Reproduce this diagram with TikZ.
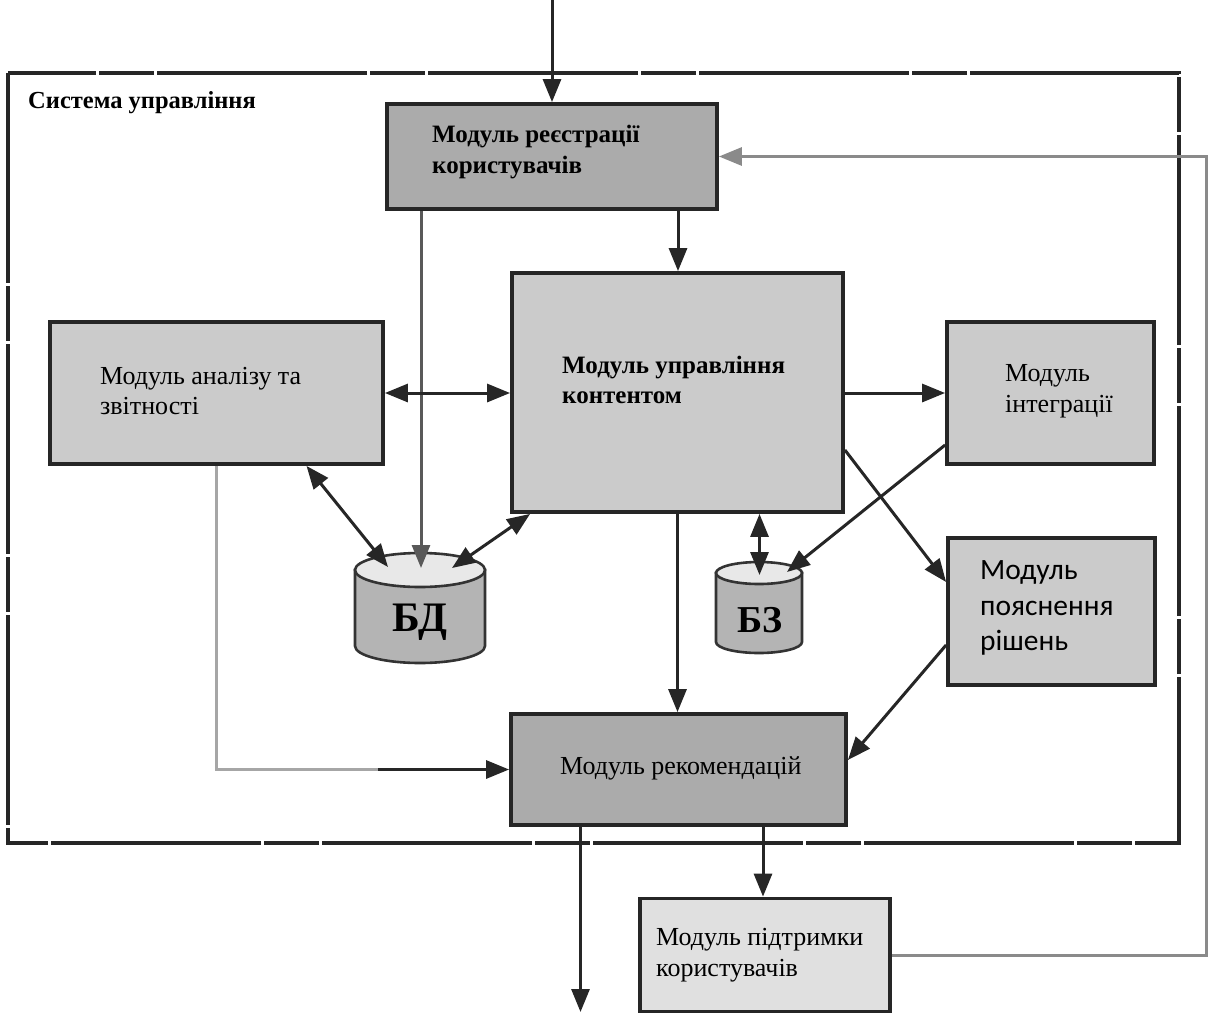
\documentclass[tikz,border=0pt]{standalone}
\usepackage{fontspec}
\setmainfont{Liberation Serif}
\newfontfamily\sansf{Carlito}
\usetikzlibrary{arrows.meta}

\definecolor{boxdark}{HTML}{ABABAB}
\definecolor{boxmid}{HTML}{CBCBCB}
\definecolor{boxlight}{HTML}{E0E0E0}
\definecolor{cylbody}{HTML}{B4B4B4}
\definecolor{cyltop}{HTML}{E8E8E8}
\definecolor{wire}{HTML}{8A8A8A}

\begin{document}
\begin{tikzpicture}[x=1pt,y=-1pt,
  box/.style={draw=black!85, line width=3.8pt, inner sep=0pt},
  lbl/.style={anchor=west, align=left, inner sep=0pt, font=\fontsize{26}{30.5}\selectfont},
  blbl/.style={lbl, font=\fontsize{25}{30.5}\selectfont\bfseries},
  tip/.style={-{Triangle[length=23pt,width=18pt]}},
  twotip/.style={{Triangle[length=23pt,width=18pt]}-{Triangle[length=23pt,width=18pt]}},
  link/.style={line width=3pt, draw=black!85},
  glink/.style={line width=3pt, draw=wire},
  cyl/.style={line width=2.6pt, draw=black!80},
  frame/.style={line width=3.2pt, draw=black!85, dash pattern=on 210pt off 3pt on 55pt off 3pt}
]
\useasboundingbox (0,0) rectangle (1209,1012);

% outer system frame
\draw[frame] (8,73) rectangle (1179,843);
\node[blbl, font=\fontsize{24.5}{28}\selectfont\bfseries] (title) at (28,103) {Система управління};

% modules
\node[box, fill=boxdark, minimum width=330pt, minimum height=105pt] (reg) at (552,156.5) {};
\node[box, fill=boxmid, minimum width=331pt, minimum height=239pt] (content) at (677.5,392.5) {};
\node[box, fill=boxmid, minimum width=333pt, minimum height=142pt] (analysis) at (216.5,393) {};
\node[box, fill=boxmid, minimum width=207pt, minimum height=142pt] (integ) at (1050.5,393) {};
\node[box, fill=boxmid, minimum width=207pt, minimum height=147pt] (expl) at (1051.5,611.5) {};
\node[box, fill=boxdark, minimum width=335pt, minimum height=111pt] (rec) at (678.5,769.5) {};
\node[box, fill=boxlight, minimum width=250pt, minimum height=113pt] (support) at (765,955) {};

% module captions
\node[blbl] (regtxt) at (432,152) {Модуль реєстрації\\користувачів};
\node[blbl] (contenttxt) at (562,380) {Модуль управління\\контентом};
\node[lbl] (analysistxt) at (100,391) {Модуль аналізу та\\звітності};
\node[lbl] (integtxt) at (1005,391) {Модуль\\інтеграції};
\node[lbl, font=\fontsize{29.5}{35.5}\sansf] (expltxt) at (980,608) {Модуль\\пояснення\\рішень};
\node[lbl] (rectxt) at (560,768) {Модуль рекомендацій};
\node[lbl] (supporttxt) at (656,955) {Модуль підтримки\\користувачів};

% database cylinders
\draw[cyl, fill=cylbody] (355,570) -- (355,646) arc[start angle=180, end angle=360, x radius=65pt, y radius=17pt] -- (485,570) -- cycle;
\draw[cyl, fill=cyltop] (420,570) ellipse[x radius=65pt, y radius=17pt];
\node[font=\fontsize{42}{42}\selectfont\bfseries] (bdtxt) at (420,622) {БД};

\draw[cyl, fill=cylbody] (716,573) -- (716,642) arc[start angle=180, end angle=360, x radius=43pt, y radius=11pt] -- (802,573) -- cycle;
\draw[cyl, fill=cyltop] (759,573) ellipse[x radius=43pt, y radius=11pt];
\node[font=\fontsize{38}{38}\selectfont\bfseries] (bztxt) at (760,620) {БЗ};

% connector end points on the cylinders and outside the frame
\coordinate (input) at (552,0);
\coordinate (output) at (580.5,1012);
\coordinate (bdleft) at (388,567);
\coordinate (bdmid) at (421,568);
\coordinate (bdright) at (452,568);
\coordinate (bzmid) at (759.5,575);
\coordinate (bzright) at (787,572);
\coordinate (loop) at (1206,600);

% connectors
\draw[link, tip] (input) -- (reg.north);
\draw[link, tip] ([xshift=126pt]reg.south) -- ([xshift=126pt]reg.south |- content.north);
\draw[glink, draw=black!65, tip] ([xshift=-131pt]reg.south) -- (bdmid);
\draw[link, twotip] (analysis.east) -- (analysis.east -| content.west);
\draw[link, tip] (content.east |- integ.west) -- (integ.west);
\draw[link, twotip] ([xshift=90pt]analysis.south) -- (bdleft);
\draw[link, twotip] ([xshift=20pt]content.south west) -- (bdright);
\draw[link, twotip] ([xshift=82pt]content.south) -- (bzmid);
\draw[link, tip] ([yshift=-52pt]integ.west) -- (bzright);
\draw[link, tip] ([yshift=-57.5pt]content.east) -- ([yshift=29.5pt]expl.west);
\draw[link, tip] ([yshift=-33.5pt]expl.west) -- ([yshift=9.5pt]rec.east);
\draw[link, tip] (content.south) -- (content.south |- rec.north);
\draw[glink, draw=black!35] (analysis.south) |- ([xshift=-131pt]rec.west);
\draw[link, tip] ([xshift=-131pt]rec.west) -- (rec.west);
\draw[link, tip] ([xshift=-98pt]rec.south) -- (output);
\draw[link, tip] ([xshift=84.5pt]rec.south) -- ([xshift=84.5pt]rec.south |- support.north);
\draw[glink, tip] (support.east) -- (support.east -| loop) -- (loop |- reg.east) -- (reg.east);
\end{tikzpicture}
\end{document}
